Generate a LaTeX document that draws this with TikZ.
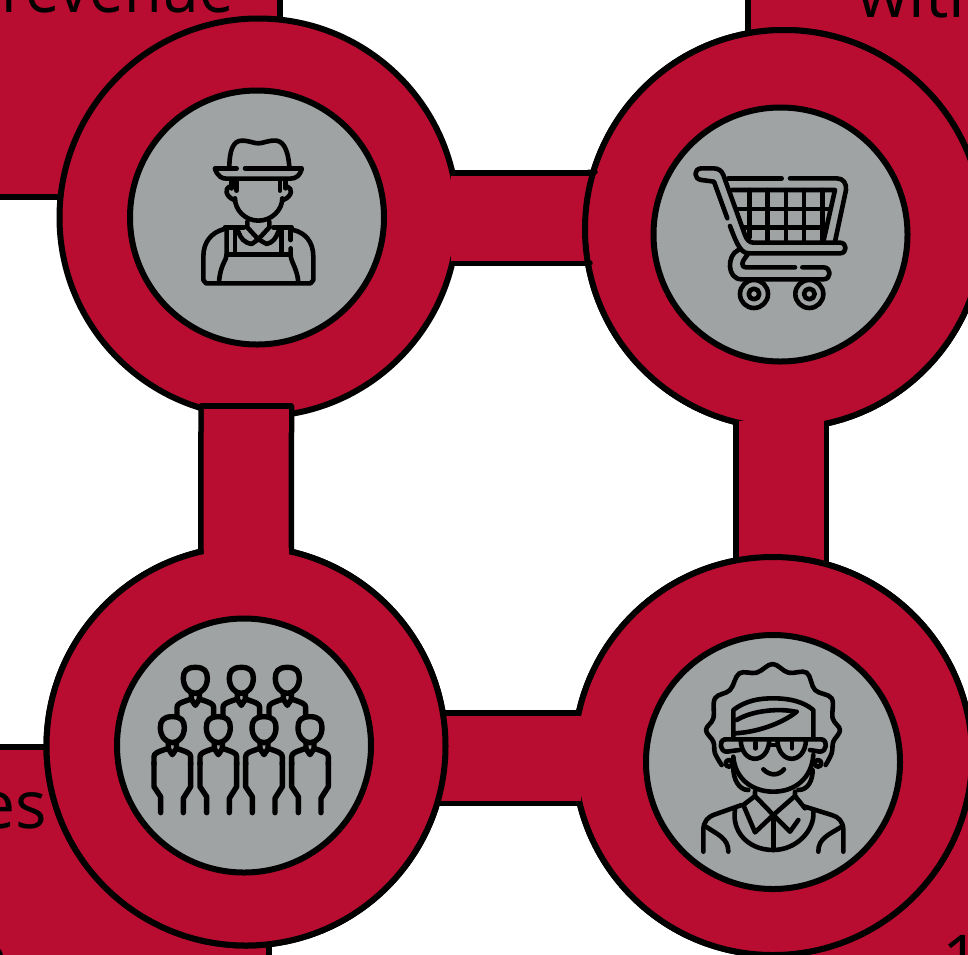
\documentclass[tikz,border=0pt]{standalone}
\usepackage{fontspec}
\setmainfont{Open Sans}
\definecolor{crimson}{HTML}{B80D30}
\definecolor{stone}{HTML}{9FA3A3}
\tikzset{
    every pic/.append style={scale=0.3333},
    bust/.pic={
        \draw (0,-38) .. controls (28,-38) and (36,-25) .. (36,-5) .. controls (36,20) and (20,40) .. (0,40) .. controls (-20,40) and (-36,20) .. (-36,-5) .. controls (-36,-25) and (-28,-38) .. (0,-38) -- cycle;
        \draw (-12,40) -- (-12,58) -- (0,76) -- (12,58) -- (12,40);
        \draw (-55,105) -- (-55,82) .. controls (-55,72) and (-45,68) .. (-15,58);
        \draw (55,105) -- (55,82) .. controls (55,72) and (45,68) .. (15,58);
    },
    legs/.pic={
        \draw (-55,100) -- (-55,172) -- (-35,202) -- (-35,250);
        \draw (55,100) -- (55,172) -- (33,207) -- (33,250);
    }
}
\begin{document}
\begin{tikzpicture}[
        x=1pt, y=-1pt,
        panel/.style={draw=black, fill=crimson, line width=6.5pt, outer sep=0pt},
        ring/.style={draw=black, fill=crimson, circle, line width=6pt, minimum size=398pt, outer sep=0pt},
        disc/.style={draw=black, fill=stone, circle, line width=6pt, minimum size=254pt, outer sep=0pt},
        band/.style={draw=black, line width=5.5pt, double=crimson, double distance=85pt},
        patch/.style={draw=crimson, line width=85pt},
        edge/.style={draw=black, line width=5.5pt, line cap=round},
        word/.style={font=\fontsize{66}{66}\selectfont, inner sep=0pt, text=black},
        icon/.style={draw=black, line width=4.6pt, line cap=round, line join=round}
    ]
    \useasboundingbox (0,0) rectangle (968,954);
    \clip (0,0) rectangle (968,954);
    \fill[white] (0,0) rectangle (968,954);

    % Panels behind the rings
    \node[panel, minimum width=330pt, minimum height=247pt] (revenuebox) at (115,73.5) {};
    \node[panel, minimum width=300pt, minimum height=250pt] (withbox) at (898,75) {};
    \node[panel, minimum width=319pt, minimum height=253pt] (esbox) at (109.5,873.5) {};
    \node[panel, minimum width=260pt, minimum height=240pt] (onebox) at (880,880) {};

    % Words, cut by the picture edge
    \node[word, anchor=base east] (revenueword) at (234,12) {\scalebox{0.93}[1]{revenue}};
    \node[word, anchor=base west] (withword) at (857,17) {with};
    \node[word, anchor=base east] (esword) at (47,828) {es};
    \node[word, anchor=base east] (eword) at (8,980) {e};
    \node[word, anchor=base west] (oneword) at (942,982) {1};

    % Rings and the bands between them
    \node[ring] (farmerring) at (258.5,217.5) {};
    \node[ring] (cartring) at (784,229) {};
    \node[ring] (grannyring) at (773,756) {};
    \node[ring, minimum size=399pt] (crowdring) at (246,746) {};
    \coordinate (farmerout) at ([xshift=-4pt, yshift=-0.5pt]farmerring.east);
    \coordinate (cartout) at ([xshift=-3pt, yshift=4pt]cartring.south);
    \coordinate (grannyout) at ([xshift=4pt, yshift=-2pt]grannyring.west);
    \coordinate (crowdout) at ([yshift=-4pt]crowdring.north);
    \coordinate (bandtop) at (246.3,406);

    % Each band lies over one ring and under the next
    \draw[band] (farmerout) -- (farmerout -| cartring.center);
    \draw[patch] ([xshift=-3pt]farmerout) -- ([xshift=3pt]farmerout);
    \node[ring] at (cartring) {};
    \draw[edge] (588,172.5) -- (595,172);
    \draw[edge] (586,263.5) -- (590,263);
    \draw[band] (cartout) -- (cartout |- grannyring.center);
    \draw[patch] ([yshift=3pt]cartout) -- ([yshift=-3pt]cartout);
    \node[ring] at (grannyring) {};
    \draw[band] (grannyout) -- (grannyout -| crowdring.center);
    \draw[patch] ([xshift=3pt]grannyout) -- ([xshift=-3pt]grannyout);
    \node[ring, minimum size=399pt] at (crowdring) {};
    \draw[band] (crowdout) -- (bandtop);
    \draw[patch] ([yshift=-3pt]crowdout) -- ([yshift=3pt]crowdout);
    \draw[edge] ([xshift=-45pt]bandtop) -- ([xshift=45pt]bandtop);

    % Discs
    \node[disc] (farmer) at (257,217.5) {};
    \node[disc] (cart) at (780.5,234.5) {};
    \node[disc] (granny) at (773,762) {};
    \node[disc] (crowd) at (244,745.5) {};

    % Farmer
    \begin{scope}[shift={(170,120)}, scale=0.3333, every path/.append style={icon}]
        \draw (178,145) .. controls (178,90) and (190,62) .. (215,62) .. controls (240,62) and (250,70) .. (265,70) .. controls (280,70) and (295,60) .. (320,62) .. controls (345,66) and (355,100) .. (358,140);
        \draw (135,145) -- (200,145);
        \draw (225,145) -- (395,145);
        \draw (135,148) .. controls (145,170) and (155,176) .. (170,176) -- (360,176) .. controls (380,176) and (390,165) .. (395,148);
        \draw (185,180) -- (185,205);
        \draw (200,180) -- (200,212);
        \draw (330,180) -- (330,212);
        \draw (347,180) -- (347,205);
        \draw (178,200) .. controls (165,205) and (165,228) .. (192,240);
        \draw (352,200) .. controls (368,205) and (368,228) .. (340,240);
        \draw (195,235) .. controls (195,270) and (225,302) .. (265,302) .. controls (305,302) and (337,270) .. (337,235);
        \draw (232,305) -- (232,322) -- (265,358) -- (298,322) -- (298,305);
        \draw (205,335) .. controls (212,355) and (222,368) .. (245,372) -- (265,358) -- (290,372) .. controls (308,368) and (318,355) .. (325,335);
        \draw (165,322) -- (222,322);
        \draw (310,322) -- (365,322);
        \draw (170,325) -- (170,405) .. controls (170,420) and (150,435) .. (147,488);
        \draw (195,325) -- (195,400);
        \draw (170,403) -- (360,403);
        \draw (335,325) -- (335,400);
        \draw (362,325) -- (362,360);
        \draw (362,385) -- (362,405) .. controls (362,425) and (382,445) .. (385,488);
        \draw (160,328) .. controls (125,338) and (100,365) .. (100,410) -- (100,480) -- (108,490) -- (422,490) -- (430,480) -- (430,410) .. controls (430,365) and (405,338) .. (370,330);
    \end{scope}

    % Cart
    \begin{scope}[shift={(670,140)}, scale=0.3333, every path/.append style={icon}]
        \draw (172,235) -- (132,125) -- (95,120) .. controls (70,118) and (70,85) .. (95,85) -- (130,85) .. controls (145,85) and (155,92) .. (160,105) -- (225,285) .. controls (230,300) and (240,308) .. (250,308) -- (510,308) .. controls (532,308) and (532,340) .. (510,340) -- (240,340) .. controls (215,340) and (205,325) .. (180,258);
        \draw (175,115) -- (335,115);
        \draw (360,115) -- (500,115) .. controls (520,115) and (530,130) .. (528,150) -- (495,305);
        \draw (185,150) -- (495,150) -- (460,305);
        \draw (238,150) -- (238,292);
        \draw (293,150) -- (293,305);
        \draw (348,150) -- (348,305);
        \draw (402,150) -- (402,305);
        \draw (457,150) -- (457,305);
        \draw (205,207) -- (480,207);
        \draw (225,262) -- (470,262);
        \draw (205,330) .. controls (170,345) and (170,418) .. (215,418) -- (460,418) .. controls (485,418) and (485,382) .. (460,382) -- (397,382);
        \draw (375,382) -- (230,382) .. controls (210,382) and (215,365) .. (232,345);
        \draw (252,462) circle[radius=42];
        \draw (252,462) circle[radius=16];
        \draw (418,462) circle[radius=42];
        \draw (418,462) circle[radius=16];
    \end{scope}

    % Crowd
    \begin{scope}[shift={(130,650)}, scale=0.3333, every path/.append style={icon, line width=5.4pt}]
        \pic at (196,90) {bust};
        \pic at (334,90) {bust};
        \pic at (472,90) {bust};
        \pic at (127,238) {bust};
        \pic at (265,238) {bust};
        \pic at (402,238) {bust};
        \pic at (540,238) {bust};
        \pic at (127,238) {legs};
        \pic at (265,238) {legs};
        \pic at (402,238) {legs};
        \pic at (540,238) {legs};
    \end{scope}

    % Granny
    \begin{scope}[shift={(680,650)}, scale=0.3333, every path/.append style={icon}]
        \draw plot[smooth, tension=0.6] coordinates {(125,345) (105,310) (100,275) (78,240) (100,205) (105,145) (150,120) (178,70) (230,68) (278,42) (325,68) (380,68) (405,120) (455,145) (458,205) (480,240) (460,275) (455,310) (437,345)};
        \draw (160,355) .. controls (160,385) and (175,420) .. (205,420);
        \draw (398,360) .. controls (398,390) and (385,420) .. (355,420);
        \draw (160,320) .. controls (165,385) and (215,425) .. (280,425) .. controls (345,425) and (395,385) .. (400,315);
        \draw (160,265) -- (160,180) .. controls (200,150) and (240,145) .. (280,145) .. controls (330,145) and (370,155) .. (400,180) -- (400,265);
        \draw (165,250) .. controls (250,245) and (320,210) .. (350,185);
        \draw (170,210) .. controls (220,180) and (300,175) .. (345,185);
        \draw (135,268) -- (425,268) .. controls (445,272) and (440,305) .. (420,305) -- (390,300);
        \draw (135,268) .. controls (115,272) and (120,305) .. (140,305) -- (178,300);
        \draw (182,270) .. controls (185,345) and (265,345) .. (268,270);
        \draw (292,270) .. controls (295,345) and (375,345) .. (378,270);
        \draw (268,285) -- (292,285);
        \draw (226,278) -- (226,295);
        \draw (336,278) -- (336,295);
        \draw (147,340) circle[radius=10];
        \draw (414,340) circle[radius=10];
        \draw (250,358) .. controls (270,378) and (295,378) .. (312,358);
        \draw (225,425) -- (225,438) -- (190,465) -- (225,547) -- (280,495) -- (225,438);
        \draw (345,425) -- (345,438) -- (280,495) -- (330,545) -- (355,510);
        \draw (345,438) -- (375,475);
        \draw (280,495) -- (280,600);
        \draw (165,480) .. controls (155,540) and (200,600) .. (280,600) .. controls (350,600) and (405,540) .. (400,485);
        \draw (70,605) -- (70,540) .. controls (70,515) and (85,500) .. (100,495) -- (185,465);
        \draw (490,605) -- (490,540) .. controls (490,515) and (475,500) .. (455,495) -- (375,470);
        \draw (78,530) .. controls (115,555) and (145,565) .. (145,605);
        \draw (485,530) .. controls (445,555) and (415,565) .. (415,605);
    \end{scope}
\end{tikzpicture}
\end{document}
